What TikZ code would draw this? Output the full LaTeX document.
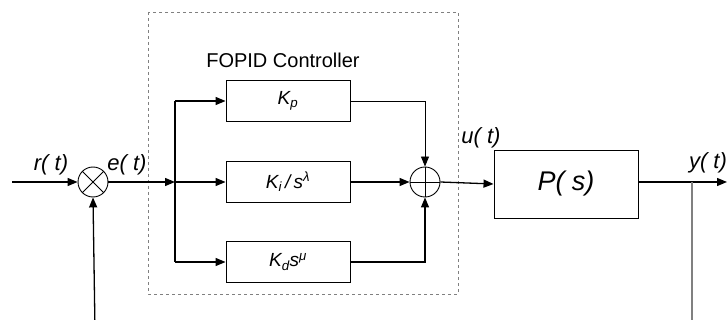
\documentclass[tikz,border=0pt]{standalone}
\usepackage{fontspec}
\setmainfont{Liberation Sans}
\usetikzlibrary{arrows.meta}
\tikzset{
  bloc/.style={draw, line width=0.9pt, minimum width=124pt, minimum height=41pt, inner sep=0pt},
  noeud/.style={draw, circle, line width=0.9pt, minimum size=30pt, inner sep=0pt},
  signal/.style={font=\itshape\fontsize{22}{24}\selectfont, inner sep=0pt},
  fleche/.style={-{Triangle[length=10pt,width=8pt]}, line width=1.3pt},
  trait/.style={line width=1.3pt}
}
\begin{document}
\begin{tikzpicture}[x=1pt,y=-1pt,font=\itshape\fontsize{19}{21}\selectfont]
    \useasboundingbox (0,0) rectangle (727,320);

    % Cadre du correcteur FOPID
    \draw[dashed, gray, line width=0.8pt] (148,12) rectangle (458,294);
    \node (titre) at (283,60) {\upshape\fontsize{20}{22}\selectfont FOPID Controller};

    % Blocs
    \node[bloc] (kp) at (288,101) {K\textsubscript{p}};
    \node[bloc] (ki) at (288,182) {K\textsubscript{i}\,/\,s\textsuperscript{λ}};
    \node[bloc] (kd) at (288,262) {K\textsubscript{d}s\textsuperscript{μ}};
    \node[bloc, minimum width=144pt, minimum height=68pt, font=\itshape\fontsize{27}{29}\selectfont] (procede) at (566,184) {P( s)};

    % Comparateur et sommateur
    \node[noeud] (comp) at (93,182) {};
    \draw[line width=0.9pt] (comp.north west) -- (comp.south east) (comp.north east) -- (comp.south west);
    \node[noeud] (somme) at (425,182) {};
    \draw[line width=0.9pt] (somme.north) -- (somme.south) (somme.west) -- (somme.east);

    % Points de passage
    \coordinate (entree) at (12,182);
    \coordinate (branche) at (175,182);
    \coordinate (sortie) at (727,182);
    \coordinate (prise) at (692,182);
    \coordinate (bas) at (692,330);
    \coordinate (retour) at (95,330);

    % Liaisons
    \draw[fleche] (entree) -- (comp.west);
    \draw[fleche] (comp.east) -- (branche);
    \draw[trait] (branche |- kp) -- (branche |- kd);
    \draw[fleche] (branche |- kp) -- (kp.west);
    \draw[fleche] (branche) -- (ki.west);
    \draw[fleche] (branche |- kd) -- (kd.west);
    \draw[fleche, line width=0.9pt] (kp.east) -| (somme.north);
    \draw[fleche] (ki.east) -- (somme.west);
    \draw[fleche] (kd.east) -| (somme.south);
    \draw[fleche] (somme.east) -- (procede.west);
    \draw[fleche] (procede.east |- sortie) -- (sortie);
    \draw[gray, line width=1.1pt] (prise) -- (bas);
    \draw[fleche] (retour) -- (comp.south);

    % Signaux
    \node[signal] (r) at (51,165) {r( t)};
    \node[signal] (e) at (127,165) {e( t)};
    \node[signal] (u) at (481,138) {u( t)};
    \node[signal] (y) at (708,163) {y( t)};

\end{tikzpicture}
\end{document}
